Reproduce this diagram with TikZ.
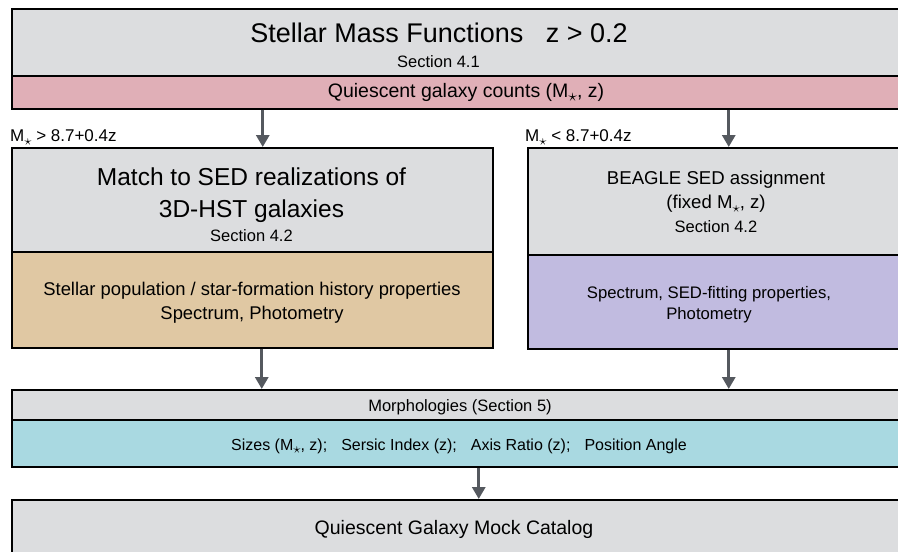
\documentclass[tikz,border=0pt]{standalone}
\usepackage{fontspec}
\setmainfont{Liberation Sans}
\usepackage{xcolor}
\usepackage{tikz}
\usetikzlibrary{arrows.meta, positioning}

\definecolor{boxgray}{HTML}{DCDDDF}
\definecolor{countpink}{HTML}{E0AFB7}
\definecolor{proptan}{HTML}{E0C8A3}
\definecolor{fitlilac}{HTML}{C1BBE0}
\definecolor{morphcyan}{HTML}{A9D9E1}
\definecolor{arrowgray}{HTML}{55595F}

\newcommand{\Mst}{M\raisebox{-0.2em}{\scalebox{0.85}{$\star$}}}
\newcommand{\fs}[1]{\fontsize{#1}{#1}\selectfont}

\tikzset{
	box/.style={draw=black, line width=1.5pt, anchor=north west, inner sep=0pt},
	txt/.style={anchor=base, inner sep=0pt},
	flow/.style={-{Triangle[length=12pt, width=13pt]}, line width=3pt, draw=arrowgray},
}

\begin{document}
\begin{tikzpicture}[x=1pt, y=-1pt]
			\useasboundingbox (0,0) rectangle (898,552);
			\clip (0,0) rectangle (898,552);
			
			% Stellar mass functions
			\node[box, fill=boxgray, minimum width=894pt, minimum height=67pt] (smf) at (11,8) {};
			\node[box, fill=countpink, minimum width=894pt, minimum height=33pt] (counts) at (11,75) {};
			\node[txt] (title) at (439,42.7) {\fs{27}Stellar Mass Functions\hspace{0.55em} z > 0.2};
			\node[txt] (sec41) at (438.5,67.3) {\fs{16.5}Section 4.1};
			\node[txt] (counttxt) at (466,97.3) {\fs{19.5}Quiescent galaxy counts (\Mst, z)};
			
			% Mass cuts
			\node[anchor=base west, inner sep=0pt] (cuthigh) at (10,141.7) {\fs{17}\Mst{} > 8.7+0.4z};
			\node[anchor=base west, inner sep=0pt] (cutlow) at (525,141.7) {\fs{17}\Mst{} < 8.7+0.4z};
			
			% Left branch: 3D-HST matching
			\node[box, fill=boxgray, minimum width=481pt, minimum height=104pt] (match) at (11,147) {};
			\node[box, fill=proptan, minimum width=481pt, minimum height=96pt] (props) at (11,251) {};
			\node[txt] (matchtxt) at (251.5,185) {\fs{24.5}Match to SED realizations of};
			\node[txt] (hsttxt) at (251.5,217.3) {\fs{24.5}3D-HST galaxies};
			\node[txt] (sec42a) at (251.5,241.7) {\fs{16.5}Section 4.2};
			\node[txt] (proptxt) at (252,295) {\fs{18.4}Stellar population / star-formation history properties};
			\node[txt] (photA) at (252,319.6) {\fs{18.4}Spectrum, Photometry};
			
			% Right branch: BEAGLE
			\node[box, fill=boxgray, minimum width=378pt, minimum height=107pt] (beagle) at (527,147) {};
			\node[box, fill=fitlilac, minimum width=378pt, minimum height=94pt] (fit) at (527,254) {};
			\node[txt] (beagletxt) at (716,184) {\fs{18.6}BEAGLE SED assignment};
			\node[txt] (fixedtxt) at (716,208.7) {\fs{18.6}(fixed \Mst, z)};
			\node[txt] (sec42b) at (716,232.9) {\fs{16.5}Section 4.2};
			\node[txt] (fittxt) at (709,298) {\fs{16.7}Spectrum, SED-fitting properties,};
			\node[txt] (photB) at (709,319) {\fs{16.7}Photometry};
			
			% Morphologies
			\node[box, fill=boxgray, minimum width=894pt, minimum height=30pt] (morph) at (11,389) {};
			\node[box, fill=morphcyan, minimum width=894pt, minimum height=47pt] (sizes) at (11,419) {};
			\node[txt] (morphtxt) at (460,411) {\fs{16.5}Morphologies (Section 5)};
			\node[txt] (sizestxt) at (459,450.7) {\fs{16}Sizes (\Mst, z);\hspace{0.6em} Sersic Index (z);\hspace{0.6em} Axis Ratio (z);\hspace{0.6em} Position Angle};
			
			% Mock catalog
			\node[box, fill=boxgray, minimum width=894pt, minimum height=60pt] (catalog) at (11,499) {};
			\node[txt] (catalogtxt) at (454,534) {\fs{19.5}Quiescent Galaxy Mock Catalog};
			
			% Arrows
			\draw[flow] ([xshift=10.5]counts.south -| match.north) -- ([xshift=10.5]match.north);
			\draw[flow] ([xshift=12]counts.south -| beagle.north) -- ([xshift=12]beagle.north);
			\draw[flow] ([xshift=9.5]props.south) -- ([xshift=9.5]props.south |- morph.north);
			\draw[flow] ([xshift=12]fit.south) -- ([xshift=12]fit.south |- morph.north);
			\draw[flow] ([xshift=20]sizes.south) -- ([xshift=20]catalog.north);
		\end{tikzpicture}
\end{document}
